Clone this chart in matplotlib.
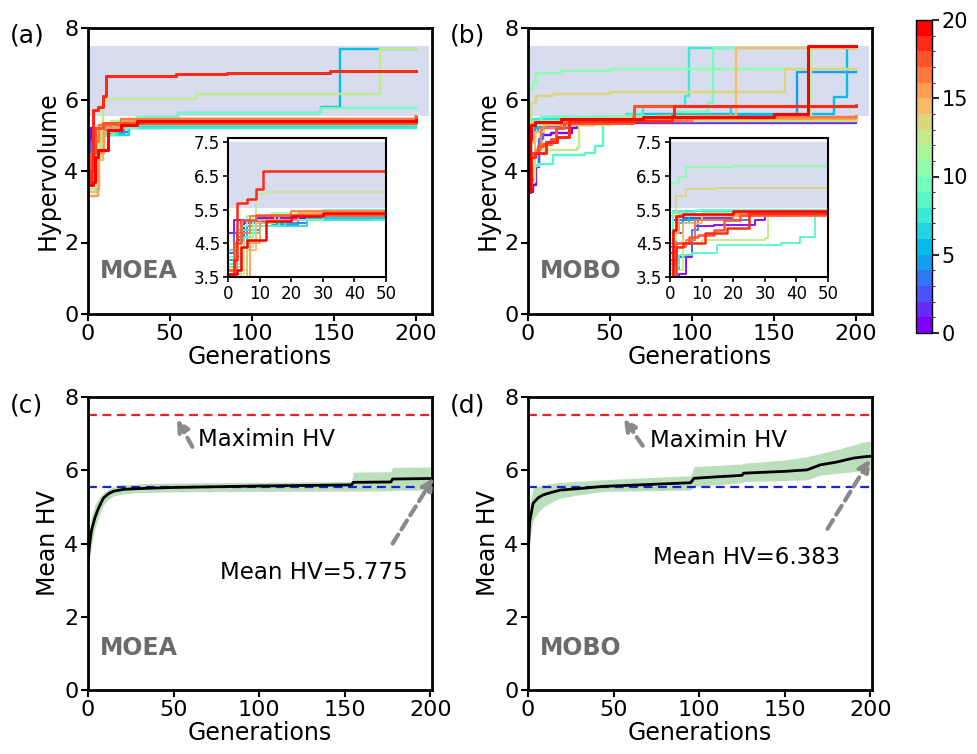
import numpy as np
import matplotlib.pyplot as plt
from matplotlib.colors import BoundaryNorm
from matplotlib.cm import ScalarMappable

# each run: (generation, hypervolume) breakpoints of a step curve, run index 0..19
moea_runs = [
    [(0, 4.8), (2, 5.2), (8, 5.2), (9, 5.25), (61, 5.25), (62, 5.35), (200, 5.35)],
    [(0, 3.9), (3, 4.6), (5, 5.1), (12, 5.3), (30, 5.4), (200, 5.42)],
    [(0, 4.2), (2, 4.8), (4, 5.15), (15, 5.3), (40, 5.45), (200, 5.48)],
    [(0, 3.7), (5, 4.9), (10, 5.1), (25, 5.3), (200, 5.45)],
    [(0, 4.0), (3, 4.7), (6, 5.0), (14, 5.05), (22, 5.2), (45, 5.4), (200, 5.45)],
    [(0, 3.6), (4, 4.5), (7, 5.1), (20, 5.3), (35, 5.5), (55, 5.63), (142, 5.8), (154, 7.42), (200, 7.42)],
    [(0, 3.5), (6, 4.8), (10, 5.0), (25, 5.25), (200, 5.4)],
    [(0, 4.3), (3, 4.9), (9, 5.0), (18, 5.2), (200, 5.42)],
    [(0, 3.8), (5, 4.7), (8, 5.0), (16, 5.3), (200, 5.5)],
    [(0, 3.9), (4, 4.8), (7, 5.2), (30, 5.5), (55, 5.63), (142, 5.75), (200, 5.75)],
    [(0, 4.1), (4, 5.0), (6, 5.3), (20, 5.4), (200, 5.45)],
    [(0, 3.6), (5, 4.4), (8, 5.3), (14, 5.4), (200, 5.5)],
    [(0, 3.5), (4, 4.5), (7, 5.3), (9, 5.95), (12, 6.02), (66, 6.15), (178, 7.42), (200, 7.42)],
    [(0, 3.7), (6, 4.6), (9, 5.3), (25, 5.45), (200, 5.52)],
    [(0, 3.4), (6, 4.3), (9, 5.1), (15, 5.35), (200, 5.5)],
    [(0, 3.3), (6, 3.5), (7, 4.5), (10, 5.2), (22, 5.4), (200, 5.5)],
    [(0, 3.6), (3, 4.8), (7, 5.3), (20, 5.45), (200, 5.55)],
    [(0, 3.7), (2, 4.5), (4, 5.2), (9, 5.35), (200, 5.5)],
    [(0, 3.6), (2, 4.0), (3, 5.7), (6, 5.8), (9, 6.1), (11, 6.65), (54, 6.72), (85, 6.75), (148, 6.8), (200, 6.8)],
    [(0, 3.6), (3, 3.7), (4, 4.4), (6, 4.6), (12, 5.15), (20, 5.3), (30, 5.4), (200, 5.42)],
]

mobo_runs = [
    [(0, 3.4), (3, 3.6), (5, 4.1), (7, 4.6), (8, 5.0), (14, 5.05), (27, 5.2), (30, 5.35), (45, 5.45), (200, 5.5)],
    [(0, 4.2), (1, 5.2), (5, 5.25), (20, 5.35), (200, 5.5)],
    [(0, 3.9), (2, 4.8), (4, 5.25), (12, 5.3), (30, 5.45), (200, 5.5)],
    [(0, 3.7), (3, 4.1), (5, 4.15), (7, 4.9), (9, 5.2), (25, 5.4), (200, 5.52)],
    [(0, 4.0), (2, 5.2), (10, 5.3), (40, 5.45), (90, 5.58), (164, 6.78), (200, 6.78)],
    [(0, 4.4), (2, 5.1), (6, 5.3), (30, 5.45), (70, 5.6), (187, 6.07), (195, 7.45), (200, 7.45)],
    [(0, 4.6), (1, 5.4), (5, 5.45), (40, 5.5), (123, 5.55), (124, 5.8), (200, 5.8)],
    [(0, 4.5), (1, 5.45), (10, 5.5), (60, 5.6), (70, 5.82), (96, 6.1), (98, 7.45), (200, 7.45)],
    [(0, 3.8), (3, 4.15), (7, 4.2), (15, 4.45), (35, 4.5), (41, 4.7), (46, 5.35), (55, 5.45), (200, 5.5)],
    [(0, 4.8), (1, 5.4), (8, 5.5), (60, 5.55), (90, 5.65), (110, 5.9), (113, 7.45), (200, 7.45)],
    [(0, 6.3), (3, 6.45), (5, 6.75), (20, 6.8), (50, 6.85), (200, 6.85)],
    [(0, 4.6), (2, 5.3), (10, 5.4), (50, 5.5), (173, 7.45), (200, 7.45)],
    [(0, 3.7), (4, 4.5), (10, 4.6), (30, 4.65), (31, 5.3), (50, 5.4), (200, 5.5)],
    [(0, 5.3), (2, 5.9), (5, 6.1), (15, 6.15), (50, 6.2), (157, 6.85), (200, 6.85)],
    [(0, 3.8), (2, 4.5), (4, 5.1), (10, 5.3), (40, 5.45), (80, 5.55), (127, 7.45), (200, 7.45)],
    [(0, 3.6), (1, 4.8), (3, 5.35), (30, 5.45), (200, 5.5)],
    [(0, 3.9), (2, 4.4), (5, 4.6), (8, 5.2), (20, 5.4), (100, 5.5), (200, 5.55)],
    [(0, 4.0), (2, 4.5), (6, 4.7), (9, 4.75), (14, 4.9), (17, 5.2), (22, 5.35), (64, 5.5), (65, 5.82), (200, 5.85)],
    [(0, 3.5), (2, 4.4), (4, 4.5), (11, 4.8), (18, 4.95), (25, 5.4), (88, 5.55), (89, 5.82), (200, 5.82)],
    [(0, 3.4), (1, 4.9), (2, 5.3), (4, 5.38), (20, 5.45), (70, 5.5), (150, 5.6), (171, 7.5), (200, 7.5)],
]

# mean HV +/- spread over the 20 runs
moea_gen = [0, 1, 2, 4, 6, 9, 12, 15, 21, 30, 50, 100, 154, 155, 177, 178, 200]
moea_mean = [3.5, 4.0, 4.35, 4.7, 4.95, 5.24, 5.36, 5.43, 5.48, 5.5, 5.53, 5.57, 5.6, 5.67, 5.68, 5.76, 5.775]
moea_hi = [3.8, 4.4, 4.75, 5.05, 5.22, 5.38, 5.48, 5.55, 5.6, 5.63, 5.65, 5.67, 5.69, 5.95, 5.96, 6.08, 6.09]
moea_lo = [3.2, 3.6, 3.95, 4.4, 4.7, 5.05, 5.2, 5.3, 5.36, 5.39, 5.41, 5.42, 5.43, 5.43, 5.44, 5.45, 5.46]

mobo_gen = [0, 1, 3, 6, 9, 14, 19, 30, 44, 70, 95, 97, 110, 125, 126, 150, 163, 171, 180, 190, 195, 200]
mobo_mean = [3.6, 4.6, 5.1, 5.25, 5.33, 5.4, 5.46, 5.5, 5.56, 5.61, 5.66, 5.78, 5.82, 5.86, 5.92, 5.97, 6.01, 6.15, 6.22, 6.33, 6.36, 6.383]
mobo_hi = [3.9, 5.1, 5.5, 5.56, 5.6, 5.64, 5.67, 5.7, 5.74, 5.8, 5.85, 6.1, 6.13, 6.17, 6.19, 6.28, 6.37, 6.46, 6.56, 6.69, 6.76, 6.8]
mobo_lo = [3.3, 4.1, 4.64, 4.85, 5.0, 5.14, 5.24, 5.33, 5.42, 5.44, 5.46, 5.56, 5.6, 5.66, 5.69, 5.72, 5.74, 5.87, 5.91, 5.96, 5.99, 6.01]

maximin_hv = 7.5
baseline_hv = 5.55

plt.rcParams['font.family'] = 'DejaVu Sans'
cmap = plt.get_cmap('rainbow', 20)
norm = BoundaryNorm(np.arange(0, 21), 20)
band_color = '#d7ddee'

fig = plt.figure(figsize=(9.77, 7.54), dpi=100)
W, H = 977, 754


def px_axes(l, t, r, b):
    return fig.add_axes([l / W, 1 - b / H, (r - l) / W, (b - t) / H])


def style(ax, lw=2, size=16):
    for s in ax.spines.values():
        s.set_linewidth(lw)
    ax.tick_params(direction='out', length=5, width=1.5, labelsize=size, pad=2)


def draw_runs(ax, runs, inset=False):
    ax.fill_between([0, 208], baseline_hv, maximin_hv, color=band_color, lw=0, zorder=0)
    for k, run in enumerate(runs):
        g, hv = zip(*run)
        lw = 1.3 if inset else 1.7
        if k >= 17:
            lw += 0.5
        ax.plot(g, hv, drawstyle='steps-post', color=cmap(k), lw=lw, zorder=2 + k * 0.01)


def draw_mean(ax, gen, mean, lo, hi):
    ax.fill_between(gen, lo, hi, color='#8fc98f', alpha=0.6, lw=0, zorder=1)
    ax.plot(gen, mean, color='black', lw=2, zorder=3)
    ax.axhline(maximin_hv, color='#e8232a', ls=(0, (4, 2.5)), lw=1.6, zorder=2)
    ax.axhline(baseline_hv, color='#1a24d6', ls=(0, (4, 2.5)), lw=1.6, zorder=2)


def arrow(ax, start, tip):
    ax.annotate('', xy=tip, xytext=start, annotation_clip=False,
                arrowprops=dict(arrowstyle='-|>,head_width=0.35,head_length=0.7',
                                color='#8a8a8a', lw=3, ls=(0, (2.5, 1.5)),
                                shrinkA=0, shrinkB=0))


# top row: individual runs
tops = [(88, moea_runs, 'MOEA', '(a)', 10, 228), (528, mobo_runs, 'MOBO', '(b)', 450, 670)]
for left, runs, name, tag, tag_x, inset_left in tops:
    ax = px_axes(left, 28, left + 344, 314)
    draw_runs(ax, runs)
    ax.set_xlim(0, 210)
    ax.set_ylim(0, 8)
    ax.set_xticks([0, 50, 100, 150, 200])
    ax.set_yticks([0, 2, 4, 6, 8])
    style(ax)
    ax.set_xlabel('Generations', fontsize=17, labelpad=1)
    ax.set_ylabel('Hypervolume', fontsize=17, labelpad=3)
    ax.text(7, 1.2, name, fontsize=17, fontweight='bold', color='#6b6b6b', va='center')
    fig.text(tag_x / W, 1 - 36 / H, tag, fontsize=18, va='center')

    ins = px_axes(inset_left, 138, inset_left + 158, 277)
    draw_runs(ins, runs, inset=True)
    ins.set_xlim(0, 50)
    ins.set_ylim(3.5, 7.62)
    ins.set_xticks([0, 10, 20, 30, 40, 50])
    ins.set_yticks([3.5, 4.5, 5.5, 6.5, 7.5])
    ins.set_yticklabels(['3.5', '4.5', '5.5', '6.5', '7.5'])
    style(ins, lw=1.5, size=12)
    ins.tick_params(length=3.5, width=1.2)

# bottom row: mean HV
bottoms = [(88, moea_gen, moea_mean, moea_lo, moea_hi, 'MOEA', '(c)', 10,
            'Mean HV=5.775', (77, 3.22), (178, 4.0), (202, 5.8), (64, 6.83), (61, 6.64), (52, 7.4)),
           (528, mobo_gen, mobo_mean, mobo_lo, mobo_hi, 'MOBO', '(d)', 450,
            'Mean HV=6.383', (73, 3.63), (175, 4.4), (200, 6.3), (71, 6.8), (67, 6.67), (56, 7.42))]
for (left, gen, mean, lo, hi, name, tag, tag_x, label, lab_xy, a_start, a_tip,
     mx_xy, m_start, m_tip) in bottoms:
    ax = px_axes(left, 397, left + 344, 690)
    draw_mean(ax, gen, mean, lo, hi)
    ax.set_xlim(0, 201)
    ax.set_ylim(0, 8)
    ax.set_xticks([0, 50, 100, 150, 200])
    ax.set_yticks([0, 2, 4, 6, 8])
    style(ax)
    ax.set_xlabel('Generations', fontsize=17, labelpad=1)
    ax.set_ylabel('Mean HV', fontsize=17, labelpad=3)
    ax.text(7, 1.15, name, fontsize=17, fontweight='bold', color='#6b6b6b', va='center')
    ax.text(lab_xy[0], lab_xy[1], label, fontsize=16.5, va='center')
    ax.text(mx_xy[0], mx_xy[1], 'Maximin HV', fontsize=16.5, va='center')
    arrow(ax, a_start, a_tip)
    arrow(ax, m_start, m_tip)
    fig.text(tag_x / W, 1 - 405 / H, tag, fontsize=18, va='center')

# colorbar for run index
cax = px_axes(916, 20, 932, 333)
cb = fig.colorbar(ScalarMappable(norm=norm, cmap=cmap), cax=cax, ticks=[0, 5, 10, 15, 20])
cb.outline.set_linewidth(1)
cax.tick_params(labelsize=15, length=5, width=1.2, pad=2)

fig.savefig('out.png', dpi=100)
